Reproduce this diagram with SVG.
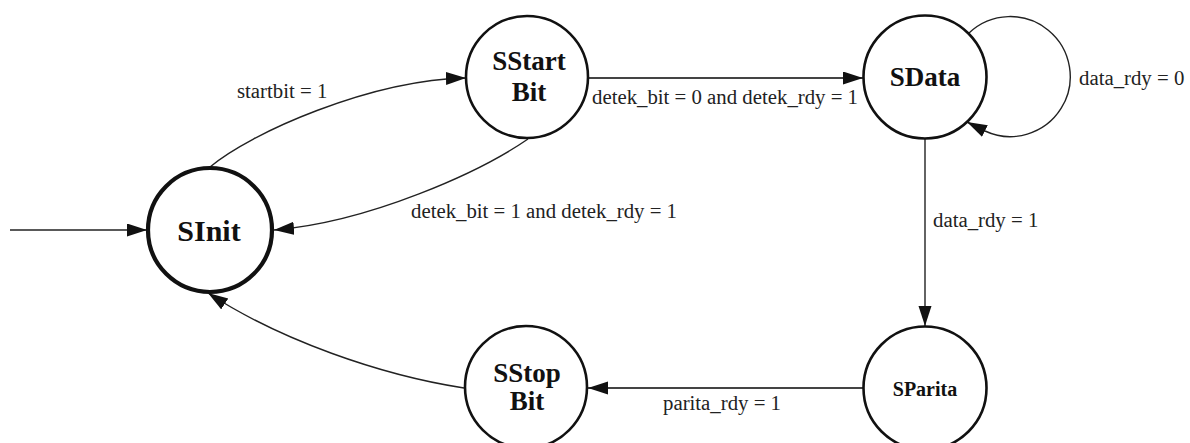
<svg xmlns="http://www.w3.org/2000/svg" width="1190" height="443" viewBox="0 0 1190 443">
  <style>
    .state { fill: #ffffff; stroke: #111111; stroke-width: 2.6; }
    .initial { stroke-width: 4.2; }
    .name { font-family: "Liberation Serif", "Times New Roman", serif; font-weight: bold; font-size: 27px; fill: #111111; text-anchor: middle; }
    .edge { fill: none; stroke: #222222; stroke-width: 1.4; marker-end: url(#arrow); }
    .flat { stroke: #444444; stroke-width: 2; }
    .label { font-family: "Liberation Serif", "Times New Roman", serif; font-size: 20.8px; fill: #222222; }
  </style>
  <defs>
    <marker id="arrow" markerUnits="userSpaceOnUse" markerWidth="21" markerHeight="14" refX="20" refY="6.5" orient="auto">
      <path d="M0,0 L20,6.5 L0,13 z" fill="#111111"/>
    </marker>
  </defs>
  <rect width="1190" height="443" fill="#ffffff"/>

  <!-- transitions -->
  <g id="connectors">
    <path class="edge" d="M10 230 L147 230"/>
    <path class="edge" d="M210 167 C250 133, 370 80, 466 78"/>
    <path class="edge" d="M528 139 C480 172, 370 222, 274 230"/>
    <path class="edge flat" d="M588 78 L863 78"/>
    <path class="edge" d="M969 33 A60 60 0 1 1 985 131 L967 122"/>
    <path class="edge" d="M925 139 L925 326"/>
    <path class="edge flat" d="M864 388 L588 388"/>
    <path class="edge" d="M464 388 C380 375, 280 340, 208 293"/>
    <text class="label" x="237" y="98">startbit = 1</text>
    <text class="label" x="411" y="218">detek_bit = 1 and detek_rdy = 1</text>
    <text class="label" x="592" y="104">detek_bit = 0 and detek_rdy = 1</text>
    <text class="label" x="1079" y="85">data_rdy = 0</text>
    <text class="label" x="933" y="227">data_rdy = 1</text>
    <text class="label" x="663" y="410">parita_rdy = 1</text>
  </g>

  <!-- states -->
  <g id="SInit">
    <circle class="state initial" cx="210" cy="230" r="62"/>
    <text class="name" x="209" y="241" style="font-size:30px">SInit</text>
  </g>
  <g id="SStartBit">
    <circle class="state" cx="527" cy="77" r="61"/>
    <text class="name" x="529" y="70">SStart</text>
    <text class="name" x="529" y="101">Bit</text>
  </g>
  <g id="SData">
    <circle class="state" cx="925" cy="77" r="61.5"/>
    <text class="name" x="925" y="86">SData</text>
  </g>
  <g id="SParita">
    <circle class="state" cx="925" cy="388" r="61.5"/>
    <text class="name" x="925" y="396" style="font-size:20px">SParita</text>
  </g>
  <g id="SStopBit">
    <circle class="state" cx="526" cy="387" r="61"/>
    <text class="name" x="527" y="382">SStop</text>
    <text class="name" x="527" y="410">Bit</text>
  </g>
</svg>
